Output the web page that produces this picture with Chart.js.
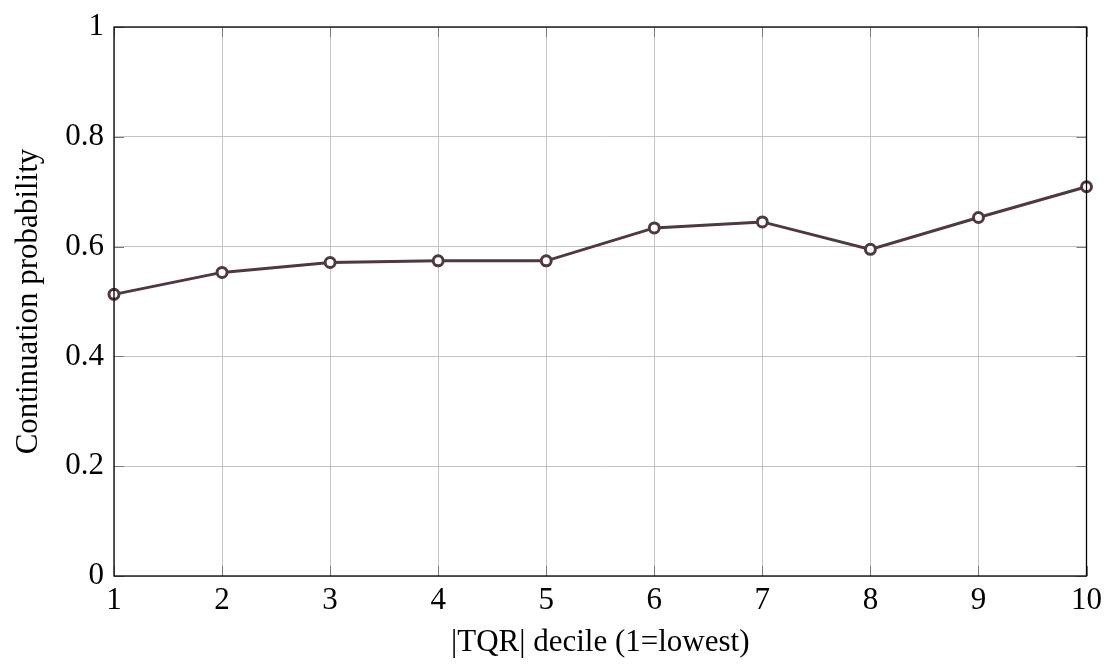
<!DOCTYPE html>
<html>
<head>
<meta charset="utf-8">
<script src="https://cdn.jsdelivr.net/npm/chart.js@4"></script>
<style>
  html, body { margin: 0; padding: 0; background: #fff; }
  #wrap { width: 1108px; height: 668px; }
</style>
</head>
<body>
<div id="wrap"><canvas id="chart_canvas" width="1108" height="668"></canvas></div>
<script>
const deciles = [1, 2, 3, 4, 5, 6, 7, 8, 9, 10]
const continuation_prob = [0.513, 0.553, 0.571, 0.574, 0.574, 0.634, 0.645, 0.595, 0.653, 0.709]
const x_title = "|TQR| decile (1=lowest)"
const y_title = "Continuation probability"

const line_color = "#503840"
const serif = "'Liberation Serif', 'DejaVu Serif', serif"

// frame + inward tick marks like pgfplots
const frame_plugin = {
  id: "frame",
  afterDatasetsDraw(chart) {
    const ctx = chart.ctx
    const a = chart.chartArea
    const xs = chart.scales.x, ys = chart.scales.y
    ctx.save()
    ctx.strokeStyle = "#7a7a7a"
    ctx.lineWidth = 1
    const len = 10
    xs.ticks.forEach(t => {
      const px = Math.round(xs.getPixelForValue(t.value)) + 0.5
      ctx.beginPath()
      ctx.moveTo(px, a.bottom); ctx.lineTo(px, a.bottom - len)
      ctx.moveTo(px, a.top); ctx.lineTo(px, a.top + len)
      ctx.stroke()
    })
    ys.ticks.forEach(t => {
      const py = Math.round(ys.getPixelForValue(t.value)) + 0.5
      ctx.beginPath()
      ctx.moveTo(a.left, py); ctx.lineTo(a.left + len, py)
      ctx.moveTo(a.right, py); ctx.lineTo(a.right - len, py)
      ctx.stroke()
    })
    ctx.strokeStyle = "#000"
    ctx.lineWidth = 1.3
    ctx.strokeRect(a.left, a.top, a.right - a.left, a.bottom - a.top)
    ctx.restore()
  }
}

window.addEventListener("DOMContentLoaded", () => {
  const points = deciles.map((d, i) => ({ x: d, y: continuation_prob[i] }))

  new Chart(document.getElementById("chart_canvas").getContext("2d"), {
    type: "line",
    data: {
      datasets: [{
        data: points,
        borderColor: line_color,
        borderWidth: 3,
        tension: 0,
        pointRadius: 5,
        pointBorderWidth: 3,
        pointBackgroundColor: "#ffffff",
        pointBorderColor: line_color,
        clip: false,
      }],
    },
    options: {
      responsive: false,
      animation: false,
      layout: { padding: { left: 0, right: 21, top: 27, bottom: 0 } },
      plugins: { legend: { display: false }, tooltip: { enabled: false } },
      scales: {
        x: {
          type: "linear",
          min: 1,
          max: 10,
          ticks: {
            stepSize: 1,
            color: "#000",
            font: { family: serif, size: 31 },
            padding: 6,
          },
          grid: { color: "#c4c4c4", lineWidth: 1, drawTicks: false },
          border: { display: false },
          title: {
            display: true,
            text: x_title,
            color: "#000",
            font: { family: serif, size: 31 },
            padding: { top: 0, bottom: 7 },
          },
          afterFit: (s) => { s.height = 92 },
        },
        y: {
          min: 0,
          max: 1,
          ticks: {
            stepSize: 0.2,
            color: "#000",
            font: { family: serif, size: 31, lineHeight: 1 },
            padding: 10,
            callback: (v) => String(Math.round(v * 10) / 10),
          },
          grid: { color: "#c4c4c4", lineWidth: 1, drawTicks: false },
          border: { display: false },
          title: {
            display: true,
            text: y_title,
            color: "#000",
            font: { family: serif, size: 31 },
            padding: { top: 10, bottom: 0 },
          },
          afterFit: (s) => { s.width = 114 },
        },
      },
    },
    plugins: [frame_plugin],
  })
})
</script>
</body>
</html>
